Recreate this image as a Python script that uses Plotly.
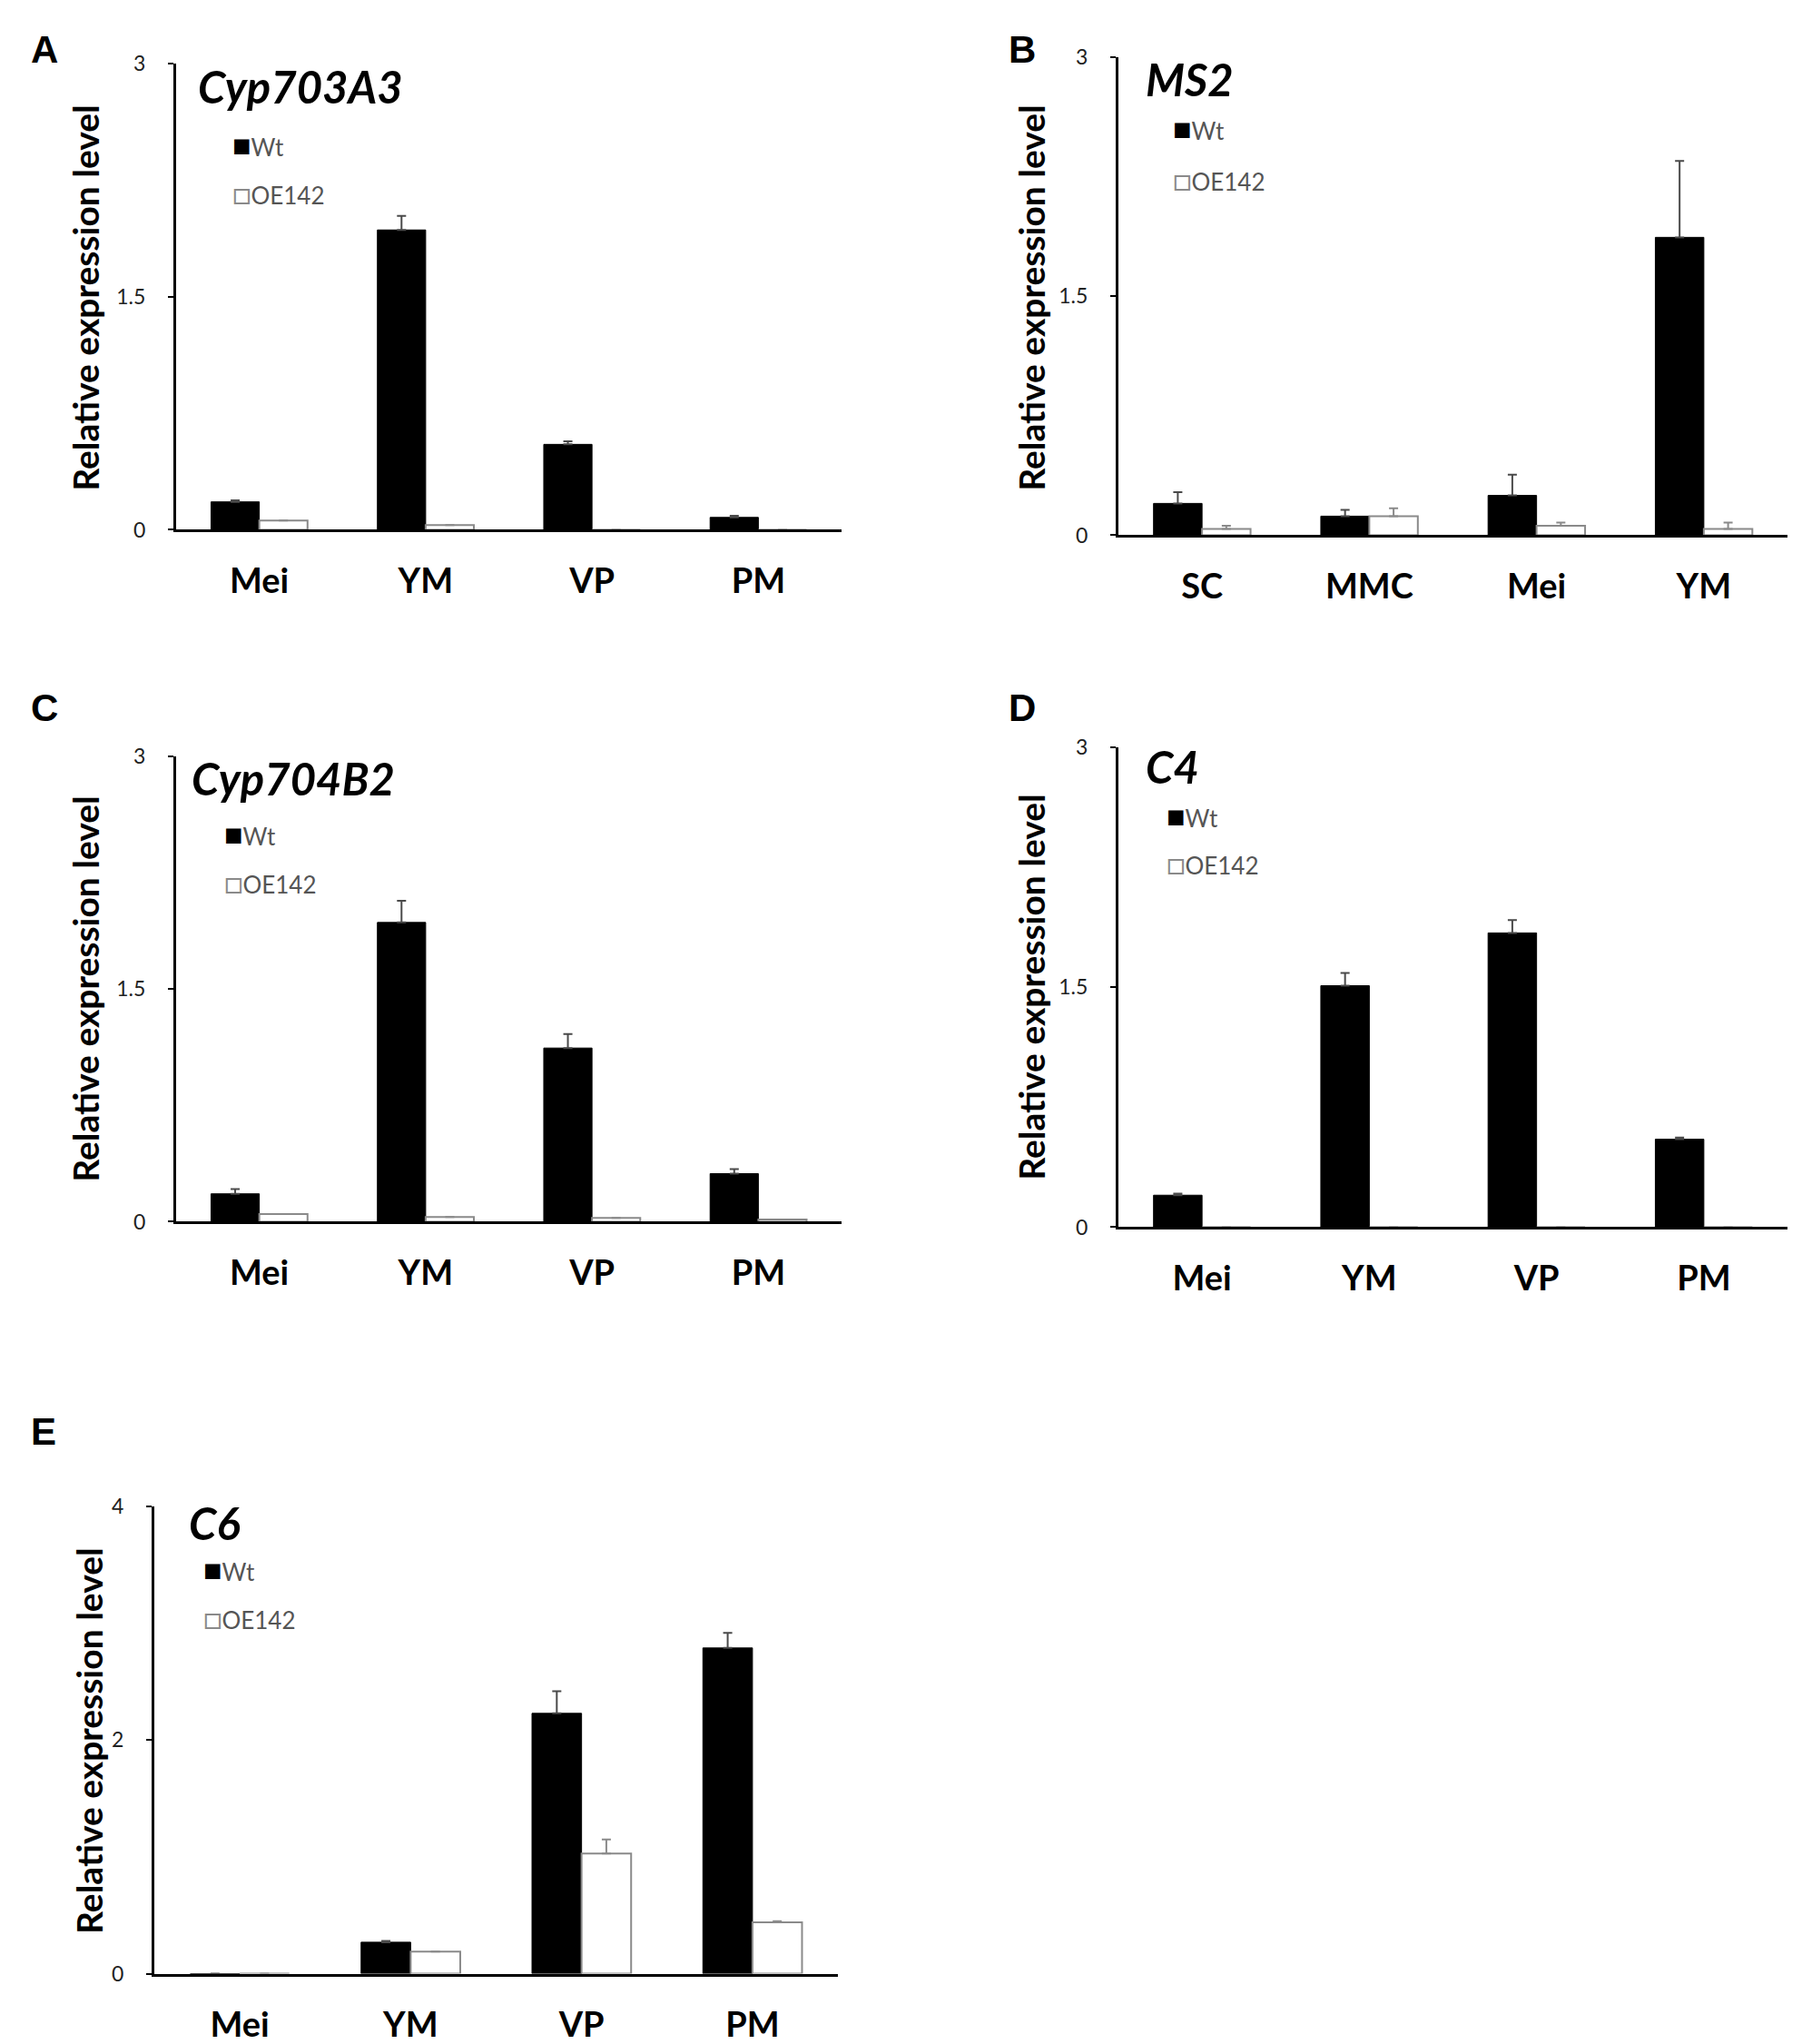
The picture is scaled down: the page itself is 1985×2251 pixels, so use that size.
import plotly.graph_objects as go

W, H = 1985, 2251

# panel data
panels_letters = ["A", "B", "C", "D", "E"]
genes = ["Cyp703A3", "MS2", "Cyp704B2", "C4", "C6"]

cats_a = ["Mei", "YM", "VP", "PM"]
wt_a = [0.18, 1.93, 0.55, 0.08]
wt_err_a = [0.01, 0.09, 0.02, 0.01]
oe_a = [0.06, 0.03, 0.0, 0.0]
oe_err_a = [0.0, 0.0, 0.0, 0.0]

cats_b = ["SC", "MMC", "Mei", "YM"]
wt_b = [0.20, 0.12, 0.25, 1.87]
wt_err_b = [0.07, 0.04, 0.13, 0.48]
oe_b = [0.04, 0.12, 0.06, 0.04]
oe_err_b = [0.02, 0.05, 0.02, 0.04]

cats_c = ["Mei", "YM", "VP", "PM"]
wt_c = [0.18, 1.93, 1.12, 0.31]
wt_err_c = [0.03, 0.14, 0.09, 0.03]
oe_c = [0.05, 0.03, 0.025, 0.015]
oe_err_c = [0.0, 0.0, 0.0, 0.0]

cats_d = ["Mei", "YM", "VP", "PM"]
wt_d = [0.20, 1.51, 1.84, 0.55]
wt_err_d = [0.01, 0.08, 0.08, 0.01]
oe_d = [0.0, 0.0, 0.0, 0.0]
oe_err_d = [0.0, 0.0, 0.0, 0.0]

cats_e = ["Mei", "YM", "VP", "PM"]
wt_e = [0.0, 0.27, 2.23, 2.79]
wt_err_e = [0.0, 0.01, 0.19, 0.13]
oe_e = [0.0, 0.19, 1.03, 0.44]
oe_err_e = [0.0, 0.0, 0.12, 0.01]

yranges = [3, 3, 3, 3, 4]
yticks = [[0, 1.5, 3], [0, 1.5, 3], [0, 1.5, 3], [0, 1.5, 3], [0, 2, 4]]

# pixel boxes: left, right, top, bottom (zero line)
boxes = [
    (193, 926, 69, 581),
    (1231, 1968, 62, 587),
    (193, 926, 830, 1341),
    (1231, 1968, 820, 1347),
    (169, 922, 1654, 2167),
]
ytitle_pos = [(93, 326), (1135, 326), (93, 1085), (1135, 1083), (97, 1911)]
gene_pos = [(215, 94), (1259, 86), (208, 854), (1259, 841), (205, 1672)]
# legend rows: x left, y of "Wt", y of "OE142"
legend_pos = [(253, 157, 210), (1289, 139, 195), (244, 914, 967),
              (1282, 894, 946), (221, 1722, 1775)]
letter_pos = [(31, 53), (1108, 53), (31, 777), (1108, 777), (31, 1571)]

data = [
    (cats_a, wt_a, wt_err_a, oe_a, oe_err_a),
    (cats_b, wt_b, wt_err_b, oe_b, oe_err_b),
    (cats_c, wt_c, wt_err_c, oe_c, oe_err_c),
    (cats_d, wt_d, wt_err_d, oe_d, oe_err_d),
    (cats_e, wt_e, wt_err_e, oe_e, oe_err_e),
]

FONT = "Lato"


# the page shot comes out a little squeezed vertically; compensate
def px(x):
    return (x + 1) / W


def py(y):
    return 1 - ((y - 14) / 0.985) / H


def note(text, x, y, size, color="black", family=FONT, xanchor="left", **kw):
    return dict(text=text, x=px(x), y=py(y), xref="paper", yref="paper",
                showarrow=False, xanchor=xanchor, yanchor="middle",
                font=dict(family=family, size=size, color=color), **kw)


fig = go.Figure()
layout = {}
annotations = []

for i, (cats, wt, wt_err, oe, oe_err) in enumerate(data):
    n = "" if i == 0 else str(i + 1)
    xa, ya = "x" + n, "y" + n
    fig.add_trace(go.Bar(
        x=cats, y=wt, name="Wt", xaxis=xa, yaxis=ya,
        marker=dict(color="black", line=dict(color="black", width=1)),
        error_y=dict(type="data", array=wt_err, symmetric=False,
                     arrayminus=[0] * len(wt), color="#4a4a4a",
                     thickness=2, width=5),
    ))
    fig.add_trace(go.Bar(
        x=cats, y=oe, name="OE142", xaxis=xa, yaxis=ya,
        marker=dict(color="white", line=dict(color="#8a8a8a", width=2)),
        error_y=dict(type="data", array=oe_err, symmetric=False,
                     arrayminus=[0] * len(oe), color="#8a8a8a",
                     thickness=2, width=5),
    ))

    l, r, t, b = boxes[i]
    layout["xaxis" + n] = dict(
        domain=[px(l), px(r)], anchor=ya, range=[-0.5, 3.5],
        showline=True, linecolor="black", linewidth=3,
        ticks="outside", ticklen=21, tickcolor="rgba(0,0,0,0)",
        tickfont=dict(family=FONT, size=38, color="black", weight="bold"),
        showgrid=False, zeroline=False, fixedrange=True,
    )
    layout["yaxis" + n] = dict(
        domain=[py(b), py(t)], anchor=xa, range=[0, yranges[i]],
        tickvals=yticks[i], ticktext=[str(v) for v in yticks[i]],
        showline=True, linecolor="black", linewidth=3,
        ticks="outside", ticklen=6, tickwidth=2, tickcolor="black",
        ticklabelstandoff=20,
        tickfont=dict(family=FONT, size=23, color="#222222"),
        showgrid=False, zeroline=False, fixedrange=True,
    )

    lx, ly1, ly2 = legend_pos[i]
    annotations.append(note(
        "<span style='color:black;font-size:34px'>■</span>Wt", lx, ly1, 26,
        color="#555555"))
    annotations.append(note(
        "<span style='color:#8a8a8a;font-size:34px'>□</span>OE142", lx, ly2,
        26, color="#555555"))

    tx, ty = ytitle_pos[i]
    annotations.append(note(
        "<b>Relative expression level</b>", tx, ty, 39, xanchor="center",
        textangle=-90))
    gx, gy = gene_pos[i]
    annotations.append(note("<b><i>" + genes[i] + "</i></b>", gx, gy, 49))
    ax_, ay_ = letter_pos[i]
    annotations.append(note("<b>" + panels_letters[i] + "</b>", ax_, ay_, 42,
                            family="Liberation Sans"))

fig.update_layout(
    width=W, height=H,
    margin=dict(l=0, r=0, t=0, b=0),
    paper_bgcolor="white", plot_bgcolor="white",
    barmode="group", bargap=0.42, bargroupgap=0,
    showlegend=False,
    annotations=annotations,
    **layout,
)

fig.write_html("out.html", config={"displayModeBar": False},
               post_script="document.body.style.margin='0';")
